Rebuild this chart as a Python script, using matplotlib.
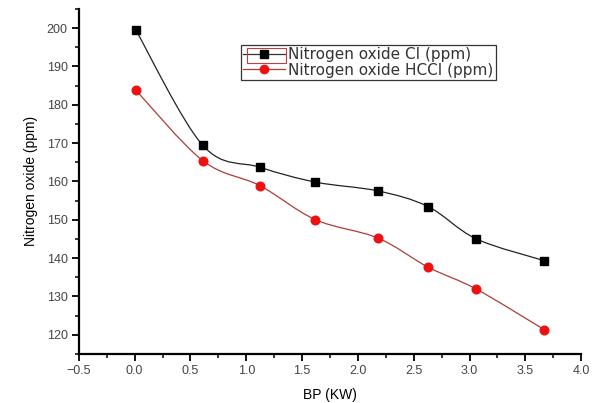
import numpy as np
import matplotlib
matplotlib.use("Agg")
import matplotlib.pyplot as plt
from matplotlib.path import Path
from matplotlib.patches import PathPatch, Rectangle
from matplotlib.lines import Line2D
from matplotlib.ticker import MultipleLocator

plt.rcParams['font.family'] = ['Liberation Sans', 'DejaVu Sans']

# --- data ---
bp = [0.01, 0.61, 1.12, 1.62, 2.18, 2.63, 3.06, 3.67]
nox_ci = [199.5, 169.4, 163.7, 159.8, 157.5, 153.4, 145.0, 139.3]
nox_hcci = [183.8, 165.4, 158.9, 150.0, 145.2, 137.6, 131.9, 121.3]
labels = ["Nitrogen oxide CI (ppm)", "Nitrogen oxide HCCI (ppm)"]


def smooth_path(x, y, tension=0.5):
    """Catmull-Rom style bezier path through the points (drawing style only)."""
    x = np.asarray(x, float)
    y = np.asarray(y, float)
    verts = [(x[0], y[0])]
    codes = [Path.MOVETO]
    n = len(x)
    for i in range(n - 1):
        i0, i3 = max(i - 1, 0), min(i + 2, n - 1)
        c1 = (x[i] + (x[i + 1] - x[i0]) * tension / 3, y[i] + (y[i + 1] - y[i0]) * tension / 3)
        c2 = (x[i + 1] - (x[i3] - x[i]) * tension / 3, y[i + 1] - (y[i3] - y[i]) * tension / 3)
        verts += [c1, c2, (x[i + 1], y[i + 1])]
        codes += [Path.CURVE4] * 3
    return Path(verts, codes)


fig = plt.figure(figsize=(5.93, 4.03), dpi=100)
ax = fig.add_axes([0.133, 0.122, 0.847, 0.856])

ax.add_patch(PathPatch(smooth_path(bp, nox_ci), fill=False, ec='#222222', lw=0.9))
ax.add_patch(PathPatch(smooth_path(bp, nox_hcci), fill=False, ec='#b03a3a', lw=0.9))
ax.plot(bp, nox_ci, ls='none', marker='s', ms=5.6, color='black')
ax.plot(bp, nox_hcci, ls='none', marker='o', ms=6.2, color='#ee1111', mec='#ee1111')

ax.set_xlim(-0.5, 4.0)
ax.set_ylim(115, 205)
ax.xaxis.set_major_locator(MultipleLocator(0.5))
ax.xaxis.set_minor_locator(MultipleLocator(0.25))
ax.yaxis.set_major_locator(MultipleLocator(10))
ax.yaxis.set_minor_locator(MultipleLocator(5))
ax.set_yticks(np.arange(120, 201, 10))

for s in ['top', 'right']:
    ax.spines[s].set_visible(False)
for s in ['left', 'bottom']:
    ax.spines[s].set_linewidth(1.6)
ax.tick_params(which='major', direction='out', length=5, width=1.3, labelsize=9,
               labelcolor='#444444', pad=3)
ax.tick_params(which='minor', direction='out', length=3, width=1.1)

ax.set_xlabel("BP (KW)", fontsize=10, labelpad=8)
ax.set_ylabel("Nitrogen oxide (ppm)", fontsize=10, labelpad=6)

handles = [
    Line2D([], [], color='#333333', lw=0.9, marker='s', ms=5.5, mfc='black', mec='black'),
    Line2D([], [], color='#b03a3a', lw=0.9, marker='o', ms=6, mfc='#ee1111', mec='#ee1111'),
]
leg = ax.legend(handles, labels, loc='upper left', bbox_to_anchor=(0.323, 0.896),
                prop={'family': 'DejaVu Sans', 'size': 11}, frameon=True, fancybox=False,
                borderpad=0.15, handlelength=2.7, handletextpad=0.25, labelspacing=0.05,
                borderaxespad=0)
leg.get_frame().set_edgecolor('black')
leg.get_frame().set_linewidth(0.9)
for t in leg.get_texts():
    t.set_color('#333333')

# red selection box around the first legend symbol
fig.patches.append(Rectangle((247 / 593, 1 - 63 / 403), 39 / 593, 15 / 403,
                             transform=fig.transFigure, fill=False, ec='#c04040', lw=0.8))

fig.savefig("out.png", dpi=100)
